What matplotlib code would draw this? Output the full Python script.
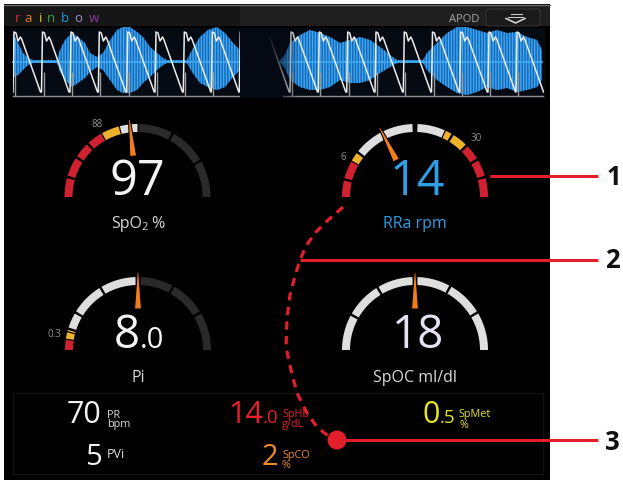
import matplotlib
matplotlib.use('Agg')
import matplotlib.pyplot as plt
from matplotlib.patches import Polygon, Rectangle, FancyBboxPatch, Circle
import numpy as np

# ---------------- data ----------------
RAINBOW_LETTERS = list('rainbow')
RAINBOW_COLORS = ['#d42a2a', '#e8782a', '#e8c82a', '#3aa040', '#1a9ad8', '#a090d0', '#9040a0']
RAINBOW_X = [17.5, 28, 40.5, 51.5, 65, 78.5, 94]

# pleth beats (upstroke x positions) for the two waveform sweeps
BEATS_LEFT = [13, 41.5, 70, 98.3, 126.7, 155, 183.3, 211.3, 239.3]
BEATS_RIGHT = [261.7, 290, 318.3, 346.7, 375, 403.3, 431.5, 459.7, 488, 516]
BEAT_DX = [0, 1, 3, 5, 7.5, 9, 27.5]
BEAT_Y = [92, 32, 33, 41, 37, 40, 92]

# acoustic signal envelope (x, top, bottom)
AC_LEFT_X = [13, 18, 23, 28, 33, 57, 60, 65, 72, 78, 85, 90, 97, 103, 110, 117, 123, 130, 137, 143,
             150, 157, 163, 167, 187, 192, 200, 208, 217, 225, 233, 240]
AC_LEFT_TOP = [33, 43, 53, 58, 60, 60, 50, 40, 33, 37, 43, 53, 57, 53, 40, 30, 27, 27, 32, 37,
               47, 53, 58, 60, 60, 50, 37, 30, 27, 33, 43, 50]
AC_LEFT_BOT = [78, 75, 70, 65, 63, 63, 72, 80, 87, 83, 78, 72, 67, 70, 80, 90, 93, 93, 90, 83,
               77, 70, 65, 63, 63, 72, 83, 87, 90, 87, 77, 70]
AC_RIGHT_X = [280, 285, 290, 300, 310, 320, 330, 340, 350, 360, 370, 380, 390, 397, 423, 427, 437,
              447, 457, 467, 477, 487, 497, 507, 517, 527, 537, 542]
AC_RIGHT_TOP = [60, 55, 43, 35, 30, 33, 37, 43, 40, 37, 40, 47, 55, 60, 60, 53, 43,
                33, 27, 27, 30, 33, 30, 33, 32, 37, 40, 50]
AC_RIGHT_BOT = [63, 68, 80, 87, 90, 90, 87, 80, 83, 83, 80, 73, 67, 63, 63, 70, 80,
                87, 93, 95, 92, 87, 90, 88, 92, 90, 87, 80]

# gauges: value parts, label, segments (start deg, end deg, zone), needle angle, limit labels
GAUGE_SEGMENTS = {
    'SpO2': [(180, 165, 'red'), (163, 148, 'red'), (146, 134, 'red'), (132, 120, 'red'),
             (119, 105, 'yellow'), (104, 90, 'light'), (89, 62, 'dark'), (60, 31, 'dark'), (29, 0, 'dark')],
    'RRa': [(180, 167, 'red'), (165, 151, 'red'), (150, 143, 'yellow'), (141, 92, 'light'),
            (88, 66, 'light'), (65, 60, 'yellow'), (58, 46, 'yellow'), (44, 32, 'red'),
            (30, 17, 'red'), (15, 0, 'red')],
    'Pi': [(180, 172, 'red'), (171, 166, 'yellow'), (165, 164, 'yellow'), (162, 150, 'light'),
           (148, 122, 'light'), (120, 92, 'light'), (88, 62, 'dark'), (60, 32, 'dark'), (30, 0, 'dark')],
    'SpOC': [(180, 152, 'light'), (150, 122, 'light'), (120, 92, 'light'), (88, 62, 'light'),
             (60, 32, 'light'), (30, 0, 'light')],
}
NEEDLE_ANGLES = {'SpO2': 96, 'RRa': 117, 'Pi': 90, 'SpOC': 90}
GAUGE_VALUES = {'SpO2': ['97'], 'RRa': ['14'], 'Pi': ['8', '.0'], 'SpOC': ['18']}
LIMIT_LABELS = {'SpO2': [('88', 97, 127)], 'RRa': [('6', 343.5, 160), ('30', 476.5, 141)],
                'Pi': [('0.3', 54, 337)], 'SpOC': []}

# bottom parameters
PR_VALUE, PVI_VALUE = '70', '5'
SPHB_VALUE, SPCO_VALUE, SPMET_VALUE = ('14', '.0'), '2', ('0', '.5')

CALLOUTS = ['1', '2', '3']
CURVE_X = [343, 327, 315, 306, 300, 295, 290, 287, 286, 291, 297, 307, 317, 327, 337]
CURVE_Y = [207, 221, 233, 246, 260, 276, 295, 318, 347, 370, 393, 413, 427, 435, 440]

# ---------------- style ----------------
FONT = 'Open Sans'
ZONE = {'red': '#cf2130', 'yellow': '#eeb12c', 'light': '#dedede', 'dark': '#2a2a2a'}
NEEDLE = '#f27c1c'
ANN = '#e2202b'

W, H = 623, 480
fig = plt.figure(figsize=(W / 100, H / 100), dpi=100)
fig.patch.set_facecolor('white')
ax = fig.add_axes([0, 0, 1, 1])
ax.set_xlim(0, W)
ax.set_ylim(H, 0)
ax.axis('off')
renderer = fig.canvas.get_renderer()


def runs(x, y, parts, ha='center', weight='normal'):
    texts, widths = [], []
    for s, size, color, dy in parts:
        t = ax.text(0, y + dy, s, fontsize=size, color=color, ha='left', va='baseline',
                    family=FONT, weight=weight, zorder=10)
        widths.append(t.get_window_extent(renderer).width)
        texts.append(t)
    total = sum(widths)
    cur = x - total / 2 if ha == 'center' else (x - total if ha == 'right' else x)
    for t, w in zip(texts, widths):
        t.set_x(cur)
        cur += w


# screen
ax.add_patch(Rectangle((4, 4), 546, 476, facecolor='black', edgecolor='none', zorder=0))
# header
ax.add_patch(Rectangle((4, 5), 236, 21, facecolor='#161616', edgecolor='none', zorder=1))
ax.add_patch(Rectangle((240, 5), 310, 21, facecolor='#1f1f1f', edgecolor='none', zorder=1))
ax.plot([4, 550], [4.5, 4.5], color='#6a6a6a', lw=1, zorder=2)
for ch, c, x in zip(RAINBOW_LETTERS, RAINBOW_COLORS, RAINBOW_X):
    ax.text(x, 22, ch, ha='center', va='baseline', fontsize=9.5, color=c, family=FONT, zorder=3)
ax.text(464, 22, 'APOD', ha='center', va='baseline', fontsize=8, color='#a8a8a8', family=FONT, zorder=3)
ax.add_patch(FancyBboxPatch((486, 9), 54, 17, boxstyle='round,pad=0,rounding_size=3',
                            facecolor='#1a1a1a', edgecolor='#333333', lw=0.8, zorder=2))
ax.plot([510.7, 521.7], [14, 14], color='#c8c8c8', lw=0.8, zorder=3)
ax.plot([508, 523], [16.7, 16.7], color='#c8c8c8', lw=0.8, zorder=3)
ax.plot([506, 515.5, 525], [18.5, 23, 18.5], color='#d0d0d0', lw=1.2, zorder=3)

# waveform area
ax.add_patch(Rectangle((12, 28), 533, 70, facecolor='#050a13', edgecolor='none', zorder=1))
plt.rcParams['hatch.linewidth'] = 1.0
plt.rcParams['hatch.color'] = '#3ea8f2'
clipL = Rectangle((13, 27), 228, 72, transform=ax.transData)
clipR = Rectangle((266, 27), 278, 72, transform=ax.transData)
for xs, tops, bots in [(AC_LEFT_X, AC_LEFT_TOP, AC_LEFT_BOT), (AC_RIGHT_X, AC_RIGHT_TOP, AC_RIGHT_BOT)]:
    ax.fill_between(xs, tops, bots, facecolor='#1566b4', edgecolor='#3ea8f2', hatch='||||||',
                    lw=0, zorder=3)
    ax.plot(xs, [61.5] * len(xs), color='#3ea8f2', lw=1.3, zorder=3)
for beats, clip, x0, x1 in [(BEATS_LEFT, clipL, 13, 240), (BEATS_RIGHT, clipR, 283, 543)]:
    px, py = [], []
    for b in beats:
        px += [b + d for d in BEAT_DX]
        py += BEAT_Y
    ln, = ax.plot(px, py, color='#ececec', lw=1.1, zorder=5)
    ln.set_clip_path(clip)
    ax.vlines([b + 2 for b in beats if x0 <= b + 2 <= x1], 72, 96, color='#9a9a9a', lw=1, zorder=4)
    ax.plot([x0, x1], [96, 96], color='#8a8a8a', lw=1, zorder=4)
# fade between sweeps
grad = np.zeros((2, 60, 4))
grad[..., :3] = [0.02, 0.039, 0.075]
alpha = np.clip((298 - np.arange(240, 300)) / 30.0, 0, 1)
grad[..., 3] = alpha[None, :]
ax.imshow(grad, extent=(240, 300, 98, 28), aspect='auto', zorder=6, interpolation='bilinear')
ax.set_xlim(0, W)
ax.set_ylim(H, 0)


def arc_poly(cx, cy, r0, r1, a0, a1, color):
    t = np.radians(np.linspace(a0, a1, 40))
    xs = np.r_[cx + r1 * np.cos(t), cx + r0 * np.cos(t[::-1])]
    ys = np.r_[cy - r1 * np.sin(t), cy - r0 * np.sin(t[::-1])]
    ax.add_patch(Polygon(np.column_stack([xs, ys]), closed=True, facecolor=color, edgecolor='none', zorder=4))


def needle(cx, cy, ang):
    a = np.radians(ang)
    ux, uy = np.cos(a), -np.sin(a)
    qx, qy = -uy, ux
    r0, r1 = 41, 78
    pts = [(cx + ux * r0 + qx * 3.5, cy + uy * r0 + qy * 3.5),
           (cx + ux * r1 + qx * 0.8, cy + uy * r1 + qy * 0.8),
           (cx + ux * r1 - qx * 0.8, cy + uy * r1 - qy * 0.8),
           (cx + ux * r0 - qx * 3.5, cy + uy * r0 - qy * 3.5)]
    ax.add_patch(Polygon(pts, closed=True, facecolor=NEEDLE, edgecolor='black', lw=0.8, zorder=6))


CENTERS = {'SpO2': (137.5, 197), 'RRa': (415, 197), 'Pi': (138, 350), 'SpOC': (415, 350)}
for key, (cx, cy) in CENTERS.items():
    for a0, a1, z in GAUGE_SEGMENTS[key]:
        arc_poly(cx, cy, 65, 73, a0, a1, ZONE[z])
    needle(cx, cy, NEEDLE_ANGLES[key])
    for s, x, y in LIMIT_LABELS[key]:
        ax.text(x, y, s, ha='center', va='baseline', fontsize=7, color='#8e8e8e', family=FONT, zorder=6)

# gauge values and labels
runs(137.5, 195, [(GAUGE_VALUES['SpO2'][0], 35, '#f4f4f4', 0)])
runs(138, 228, [('SpO', 11.5, '#d6d6d6', 0), ('2', 8, '#d6d6d6', 2.5), (' %', 11.5, '#d6d6d6', 0)])
runs(417, 195, [(GAUGE_VALUES['RRa'][0], 35, '#2f9ee4', 0)])
runs(415, 228, [('RRa rpm', 11.5, '#2f9ee4', 0)])
runs(139, 348, [(GAUGE_VALUES['Pi'][0], 33, '#f4f4f4', 0), (GAUGE_VALUES['Pi'][1], 21, '#f4f4f4', 0)])
runs(138, 382, [('Pi', 11.5, '#d6d6d6', 0)])
runs(418, 348, [(GAUGE_VALUES['SpOC'][0], 33, '#e6e0f2', 0)])
runs(415, 382, [('SpOC ml/dl', 11.5, '#d8d8d8', 0)])

# bottom box
ax.add_patch(Rectangle((13, 393), 530, 81, facecolor='none', edgecolor='#121212', lw=1, zorder=2))
WHITE = '#f2f2f2'
RED = '#e8202a'
ORANGE = '#f08a28'
YELLOW = '#e6e22a'
runs(101.5, 423, [(PR_VALUE, 22, WHITE, 0)], ha='right')
runs(107, 417.5, [('PR', 7.8, '#dcdcdc', 0)], ha='left')
runs(107, 427, [('bpm', 7.8, '#dcdcdc', 0)], ha='left')
runs(101.5, 465, [(PVI_VALUE, 21, WHITE, 0)], ha='right')
runs(107, 458.5, [('PVi', 9, '#dcdcdc', 0)], ha='left')
runs(278.5, 423, [(SPHB_VALUE[0], 22, RED, 0), (SPHB_VALUE[1], 13.5, RED, 0)], ha='right')
runs(282, 417.5, [('SpHb', 7.8, RED, 0)], ha='left')
runs(282, 427, [('g/dL', 7.8, RED, 0)], ha='left')
runs(278.5, 465, [(SPCO_VALUE, 21, ORANGE, 0)], ha='right')
runs(282, 458, [('SpCO', 7.8, ORANGE, 0)], ha='left')
runs(282, 468, [('%', 7.8, ORANGE, 0)], ha='left')
runs(455.5, 423, [(SPMET_VALUE[0], 22, YELLOW, 0), (SPMET_VALUE[1], 13.5, YELLOW, 0)], ha='right')
runs(458, 417.5, [('SpMet', 7.8, YELLOW, 0)], ha='left')
runs(459, 427.5, [('%', 7.8, YELLOW, 0)], ha='left')

# callouts
ax.plot(CURVE_X, CURVE_Y, color=ANN, lw=2.3, linestyle=(0, (2.6, 2.0)), zorder=12,
        solid_capstyle='butt', dash_capstyle='butt')
ax.plot([490, 598], [176, 176], color=ANN, lw=2.2, zorder=12, solid_capstyle='butt')
ax.plot([300, 598], [260, 260], color=ANN, lw=2.2, zorder=12, solid_capstyle='butt')
ax.plot([337, 598], [440, 440], color=ANN, lw=2.2, zorder=12, solid_capstyle='butt')
ax.add_patch(Circle((337, 440), 9.5, facecolor=ANN, edgecolor='none', zorder=13))
for s, x, y in zip(CALLOUTS, [613.5, 612, 612], [185, 268, 450]):
    ax.text(x, y, s, ha='center', va='baseline', fontsize=18.5, weight='bold', color='#111111',
            family=FONT, zorder=12)

fig.savefig('out.png', dpi=100, facecolor='white')
